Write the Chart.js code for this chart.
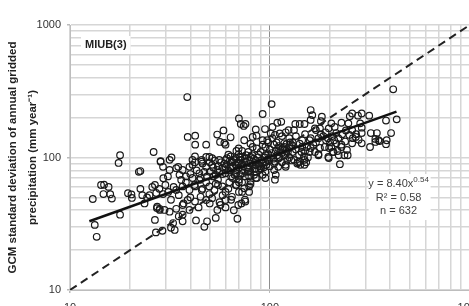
<!DOCTYPE html>
<html>
<head>
<meta charset="utf-8">
<script src="https://cdn.jsdelivr.net/npm/chart.js@4"></script>
<style>
html, body { margin:0; padding:0; background:#fff; overflow:hidden; }
#wrap { width:469px; height:306px; overflow:hidden; position:relative; }
#wrap canvas { position:absolute; left:0; top:0; }
</style>
</head>
<body>
<div id="wrap"><canvas id="chart" width="490" height="330" style="width:490px;height:330px"></canvas></div>
<script>
var miubPoints = [
  [13.0,48.6],[13.3,31.0],[13.6,25.2],[14.3,62],[14.8,62.3],[15.6,60],[14.7,53],[15.9,52.8],[16.2,49],[17.8,104],
  [17.5,91],[17.8,37],[19.5,53.8],[20.3,52.6],[20.4,49.5],[22.5,79],[22.1,78],[22.5,58],[23.0,52],[23.6,45],
  [24.3,50],[25.0,52],[25.8,60],[26.6,62],[26.2,110],[28.4,93],[26.6,33.8],[27.2,41.5],[28.1,40.2],[26.9,27.2],
  [29.0,28],[29.3,69.8],[27.0,54],[27.3,42.5],[32.0,29.5],[33.4,28.4],[32.8,32],[36.6,33],[35,36],[36.6,37],
  [39.6,40.2],[42.7,33.5],[47,30],[48.5,33],[53.6,35],[68.8,34.5],[69.5,43.8],[75.4,46.5],
  [38.6,286],[38.8,143],[42.3,146],[42.3,125],[48,125],[54.5,149],[58.6,160],[56.3,131],[63.6,142],[59.2,129],
  [60,125],[70,197],[71.5,179],[74,173],[75.5,179],[69.8,117],[69.8,106],[28.4,94],[32.2,100],[31.5,96],
  [34.8,85],[42.2,92],[45.6,96],[49.8,101],[55.8,96],[61,99],[64.6,93],[42.2,102],[48,101],[63.6,102],
  [72.6,101],[102,253],[92,213],[85,163],[94.5,164],[103,170],[109,183],[114,186],[82,143],[85.7,146],
  [92,135],[74.4,135],[80,127],[124,161],[134,179],[141,179],[149,179],[160,228],[163,209],[160,192],[168,166],
  [101,152],[106,148],[112,152],[132,161],[97,135],[72.6,112],[86,117],[71,101],[80,101],[95,104],
  [118,120],[129,124],[141,127],[153,120],[158,135],[106,93],[122,96],[137,90],[149,88],
  [414,327],[431,194],[381,190],[314,207],[276,207],[258,215],[251,205],[288,215],[182,203],[180,188],
  [203,181],[228,183],[247,181],[283,181],[258,161],[288,153],[320,153],[343,153],[404,153],[258,128],
  [278,136],[288,128],[317,120],[349,135],[384,135],[381,126],[191,135],[203,120],[228,120],[243,114],
  [175,104],[197,99],[224,89],[236,104],[337,138],[354,133],[269,143],[215,153],[170,161],[178,166],
  [197,166],[337,131],[211,170],[288,168],[221,104],[175,106],[196,101],[206,110],[245,104],[141,93],
  [149,96],[144,110],
  [105,80.5],[107,74],[106,68],[95,78],[120,85],[74.4,58.5],[78.7,55],[75,48],[70,65],[80,63],
  [83.4,74],[90,83],[71,74],[66.6,74],[77.5,78],[86,70],
  [30.9,72],[31.5,80.5],[29.2,85],[34,83],[35.3,74],[36.6,80.5],[39.6,85],[41,70],[44.4,76],[48,85],
  [51.4,88],[54.6,80.5],[59.2,90],[63.6,85],[67.4,88],[72.6,80.5],[78.7,83],[85,88],[92,90],[97,96],
  [29.2,53],[31,55],[28.1,41],[29.7,40.2],[31.5,39],[34,41],[36.6,43.8],[38.8,47.8],[42.2,46.5],[45,50.5],
  [48,47.8],[51.4,49.3],[54.6,40.2],[56.6,43.8],[60,47.8],[64.6,50.5],[34,56.9],[36.6,60.5],[39.6,56.9],[42.2,60.5],
  [45.6,56.9],[49.8,60.5],[53.6,63.5],[57.9,60.5],[62.6,65],[67.4,62],[72.6,65],[78.7,72],[85,70],[92,74],
  [78.7,60.5],[72.6,55],[60,55],[49.8,53],[52.8,56.9],[36,67.7],[38,72],[44.4,67.7],[48.5,72],[53.6,74],
  [60,76],[67.4,76],[72.6,90],[88.3,80.5],[41,96],[45.6,93],[51.4,99],[60,96],[67.4,99],[81.5,104],[76,104],
  [90,110],[95,120],[100,115],[105,125],[110,118],[115,108],[120,112],[100,100],[110,98],[88,105],
  [92,125],[98,130],[103,140],[108,130],[118,128],[125,118],[130,110],[135,115],[140,105],[145,120],
  [150,112],[155,100],[160,118],[165,125],[170,130],[175,140],[180,150],[185,145],[190,155],[195,140],
  [200,130],[205,145],[210,135],[215,128],[220,140],[230,150],[240,160],[250,148],[260,140],[270,150],
  [125,140],[130,130],[135,145],[145,135],[150,150],[160,140],[115,145],[120,155],[112,100],[128,95],
  [138,92],[148,102],[158,110],[168,110],[178,118],[188,120],[198,118],[208,110],[218,112],[228,125],
  [238,132],[80,90],[85,95],[78,110],[82,120],[70,90],[65,92],[60,85],[62,105],[68,112],
  [75,98],[72,88],[88,88],[95,92],[100,86],[105,90],[110,85],[115,92],[120,88],[125,100],
  [132,96],[142,88],[152,92],[65,70],[70,68],[75,72],[80,66],[85,78],[90,82],[95,70],
  [55,68],[58,75],[52,72],[48,65],[50,78],[45,70],[42,62],[40,75],[38,65],[46,58],
  [55,62],[62,58],[68,62],[58,52],[64,48],[70,55],[40,50],[35,52],[33,60],[30,62],
  [28,58],[32,48],[37,45],[44,42],[50,45],[56,46],[60,42],[66,40],[72,45],
  [41,88],[43,80],[46,90],[47,78],[50,92],[52,84],[53,95],[55,86],[56,78],[57,92],
  [58,84],[61,88],[62,80],[63,94],[64,72],[65,86],[66,96],[68,80],[69,92],[70,84],
  [71,96],[73,76],[74,86],[76,92],[77,84],[79,96],[80,78],[82,88],[83,98],[84,82],
  [86,92],[87,100],[89,86],[91,96],[93,84],[94,100],[96,88],[98,106],[99,94],[102,108],
  [104,98],[107,112],[109,104],[111,122],[113,114],[116,118],[119,104],[121,126],[123,110],[126,130]
];

// power-law fit endpoints (y = 8.40x^0.54) and the 1:1 line
var fitX = [12.5, 430];
var fitY = [33, 222];
var oneToOneX = [10, 1000];
var oneToOneY = [10, 1000];

var gridVals = [10,20,30,40,50,60,70,80,90,100,200,300,400,500,600,700,800,900,1000];
var majorVals = [10, 100, 1000];

var modelLabel = 'MIUB(3)';
var statLines = ['y = 8.40x', 'R\u00b2 = 0.58', 'n = 632'];
var fitExponent = '0.54';

function toXY(xs, ys){
  var out = [];
  for (var i = 0; i < xs.length; i++) out.push({x: xs[i], y: ys[i]});
  return out;
}

var scatterData = miubPoints.map(function(p){ return {x: p[0], y: p[1]}; });

var tickFont = {family: '"Liberation Sans", Arial, sans-serif', size: 11};

function gridColor(ctx, isX){
  if (isX && ctx.tick && ctx.tick.value === 100) return '#8f8f8f';
  return '#d6d6d6';
}

// the text bits drawn inside the plot (model name + fit statistics)
var labelsPlugin = {
  id: 'labels',
  afterDatasetsDraw: function(chart){
    var c = chart.ctx, a = chart.chartArea;
    c.save();
    // model name, top left
    c.font = 'bold 11px "Liberation Sans", Arial, sans-serif';
    var w = c.measureText(modelLabel).width;
    var lx = a.left + 15, ly = a.top + 20;
    c.fillStyle = '#fff';
    c.fillRect(lx - 4, ly - 9, w + 8, 18);
    c.fillStyle = '#222';
    c.textBaseline = 'middle';
    c.fillText(modelLabel, lx, ly);

    // stats box
    var cx = a.left + 0.822 * (a.right - a.left);
    var cy = a.top + 0.653 * (a.bottom - a.top);
    c.fillStyle = '#fff';
    c.fillRect(cx - 30, cy - 24, 62, 46);
    c.font = '11px "Liberation Sans", Arial, sans-serif';
    c.fillStyle = '#404040';
    c.textAlign = 'left';
    var base = statLines[0];
    var bw = c.measureText(base).width;
    c.font = '8px "Liberation Sans", Arial, sans-serif';
    var ew = c.measureText(fitExponent).width;
    var sx = cx - (bw + ew) / 2;
    c.font = '11px "Liberation Sans", Arial, sans-serif';
    c.fillText(base, sx, cy - 14);
    c.font = '8px "Liberation Sans", Arial, sans-serif';
    c.fillText(fitExponent, sx + bw, cy - 18);
    c.font = '11px "Liberation Sans", Arial, sans-serif';
    c.textAlign = 'center';
    c.fillText(statLines[1], cx, cy);
    c.fillText(statLines[2], cx, cy + 13);
    c.restore();
  }
};

new Chart(document.getElementById('chart'), {
  data: {
    datasets: [{
      type: 'line',
      data: toXY(fitX, fitY),
      borderColor: '#111',
      borderWidth: 2.5,
      pointRadius: 0,
      fill: false
    }, {
      type: 'line',
      data: toXY(oneToOneX, oneToOneY),
      borderColor: '#222',
      borderWidth: 2,
      borderDash: [8, 5],
      pointRadius: 0,
      fill: false
    }, {
      type: 'scatter',
      data: scatterData,
      pointRadius: 3.3,
      pointBorderWidth: 1.2,
      borderColor: '#1a1a1a',
      backgroundColor: 'rgba(0,0,0,0)'
    }]
  },
  options: {
    responsive: false,
    animation: false,
    layout: {padding: {top: 25, right: 18, left: 0, bottom: 0}},
    plugins: {legend: {display: false}, tooltip: {enabled: false}},
    scales: {
      x: {
        type: 'logarithmic',
        min: 10, max: 1000,
        afterBuildTicks: function(s){ s.ticks = gridVals.map(function(v){ return {value: v}; }); },
        afterFit: function(s){ s.height = 40; },
        ticks: {
          autoSkip: false, maxRotation: 0, padding: 8, color: '#333', font: tickFont,
          callback: function(v){ return majorVals.indexOf(v) >= 0 ? String(v) : ''; }
        },
        grid: {
          color: function(ctx){ return gridColor(ctx, true); },
          lineWidth: function(ctx){ return ctx.tick && ctx.tick.value === 100 ? 1 : 1.5; },
          tickLength: 3,
          tickColor: function(ctx){ return ctx.tick && majorVals.indexOf(ctx.tick.value) >= 0 ? '#bbb' : 'rgba(0,0,0,0)'; }
        },
        border: {color: '#bdbdbd', width: 1}
      },
      y: {
        type: 'logarithmic',
        min: 10, max: 1000,
        afterBuildTicks: function(s){ s.ticks = gridVals.map(function(v){ return {value: v}; }); },
        afterFit: function(s){ s.width = 70; },
        ticks: {
          autoSkip: false, padding: 6, color: '#333', font: tickFont,
          callback: function(v){ return majorVals.indexOf(v) >= 0 ? String(v) : ''; }
        },
        grid: {
          color: function(ctx){ return gridColor(ctx, false); },
          lineWidth: 1.5,
          tickLength: 3,
          tickColor: function(ctx){ return ctx.tick && majorVals.indexOf(ctx.tick.value) >= 0 ? '#bbb' : 'rgba(0,0,0,0)'; }
        },
        border: {color: '#bdbdbd', width: 1},
        title: {
          display: true,
          text: ['GCM standard deviation of annual gridded', 'precipitation (mm year\u207b\u00b9)'],
          color: '#222',
          font: {family: '"Liberation Sans", Arial, sans-serif', size: 11.5, weight: 'bold', lineHeight: 1.8},
          padding: {top: 2, bottom: 2}
        }
      }
    }
  },
  plugins: [labelsPlugin]
});
</script>
</body>
</html>
